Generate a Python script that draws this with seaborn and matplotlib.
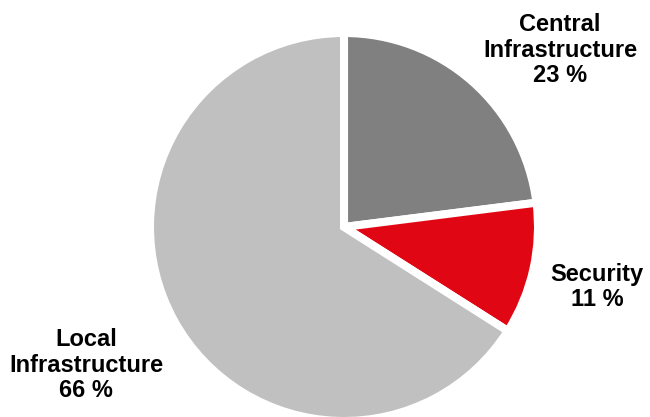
import matplotlib
matplotlib.use("Agg")
import matplotlib.pyplot as plt
import seaborn as sns

# Budget split by area (percent)
categories = ["Central\nInfrastructure", "Security", "Local\nInfrastructure"]
shares = [23, 11, 66]
colors = ["#808080", "#E10613", "#C0C0C0"]

# Label anchor points (canvas pixels, origin bottom-left)
label_xy = [(560, 367), (597, 130), (86, 52)]

sns.set_theme(style="white")
plt.rcParams["font.family"] = ["Liberation Sans", "DejaVu Sans"]

W, H = 650, 417
fig = plt.figure(figsize=(W / 100, H / 100), dpi=100)
ax = fig.add_axes([0, 0, 1, 1])

ax.pie(
    shares,
    colors=colors,
    startangle=90,
    counterclock=False,
    center=(344, 190),
    radius=194,
    wedgeprops=dict(edgecolor="white", linewidth=5.8, joinstyle="miter"),
)

for name, val, (x, y) in zip(categories, shares, label_xy):
    ax.text(x, y, f"{name}\n{val} %", ha="center", va="center",
            fontsize=17, fontweight="bold", color="black", linespacing=1.15)

ax.set_xlim(0, W)
ax.set_ylim(0, H)
ax.set_aspect("auto")
ax.axis("off")

fig.savefig("out.png", dpi=100)
